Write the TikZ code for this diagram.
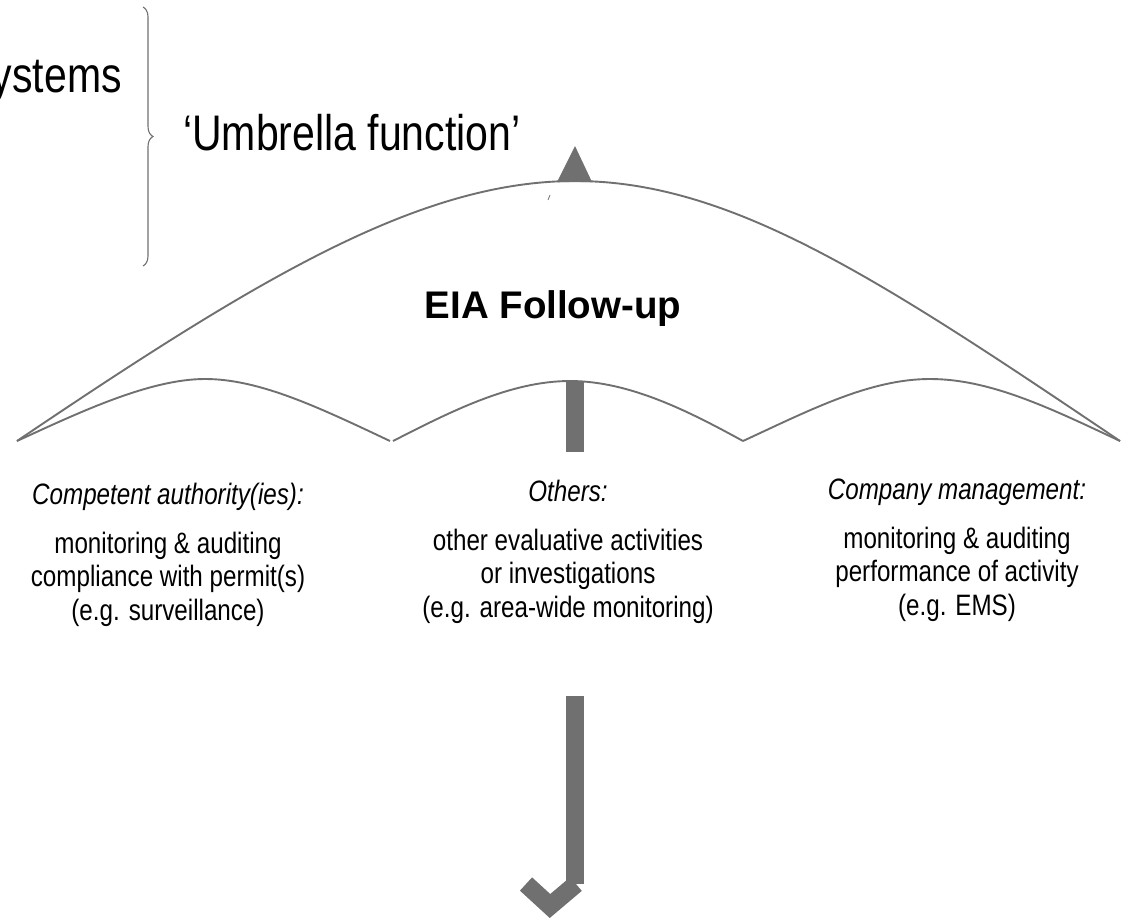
\documentclass[tikz,border=0pt]{standalone}
\usepackage{fontspec}
\setmainfont{Liberation Sans}
\newfontfamily\narrowsans{Liberation Sans}[FakeStretch=0.82]
\usetikzlibrary{positioning, decorations.pathreplacing}
\definecolor{umbgray}{RGB}{112,112,112}

\begin{document}
\begin{tikzpicture}[
  x=1pt, y=-1pt,
  every node/.style={inner sep=0pt, text=black},
  rib/.style={draw=umbgray, line width=1.9pt, line join=round},
  stick/.style={fill=umbgray, draw=none},
  hook/.style={draw=umbgray, line width=18pt, line join=miter},
  who/.style={anchor=base, font=\narrowsans\fontsize{29.5}{33.5}\selectfont\itshape},
  what/.style={anchor=north, align=center, font=\narrowsans\fontsize{29.5}{33.5}\selectfont},
  big/.style={anchor=base, font=\narrowsans\fontsize{50}{56}\selectfont}
]
\useasboundingbox (0,0) rectangle (1122,918);

% canopy
\draw[rib] (17,441) .. controls (260,277) and (420,181) .. (575,181)
  .. controls (730,181) and (877,277) .. (1120,441);
% scallops along the rim
\draw[rib] (17,441) .. controls (80,412) and (150,379) .. (205,379)
  .. controls (260,379) and (320,408) .. (390,441);
\draw[rib] (393,441) .. controls (450,412) and (510,381) .. (570,381)
  .. controls (630,381) and (690,412) .. (743,441);
\draw[rib] (743,441) .. controls (810,410) and (870,379) .. (930,379)
  .. controls (990,379) and (1050,408) .. (1120,441);

% tip, shaft and handle
\fill[umbgray] (575,146) -- (592,182) -- (557,182) -- cycle;
\draw[umbgray, line width=0.8pt] (548,200) -- (550,195);
\fill[stick] (566,381) rectangle (584,452);
\fill[stick] (566,696) rectangle (584,884);
\draw[hook] (526,884) -- (550,906) -- (576,884);

% brace and labels
\draw[umbgray, line width=1.1pt, decorate, decoration={brace, amplitude=10pt}]
  (143,7) -- (143,266);
\node[big, anchor=base east] (sys) at (122,92) {ystems};
\node[big, anchor=base west] (umb) at (183,150) {‘Umbrella function’};
\node[anchor=base, font=\fontsize{38.5}{44}\selectfont\bfseries] (eia) at (553,318) {EIA Follow-up};

% the three groups under the rim
\node[who] (auth) at (168,504) {Competent authority(ies):};
\node[what, below=27.5pt of auth.base] (authtxt) {monitoring \& auditing\\compliance with permit(s)\\(e.g. surveillance)};
\node[who] (oth) at (568,501) {Others:};
\node[what, below=27.5pt of oth.base] (othtxt) {other evaluative activities\\or investigations\\(e.g. area-wide monitoring)};
\node[who] (comp) at (957,499) {Company management:};
\node[what, below=27.5pt of comp.base] (comptxt) {monitoring \& auditing\\performance of activity\\(e.g. EMS)};
\end{tikzpicture}
\end{document}
